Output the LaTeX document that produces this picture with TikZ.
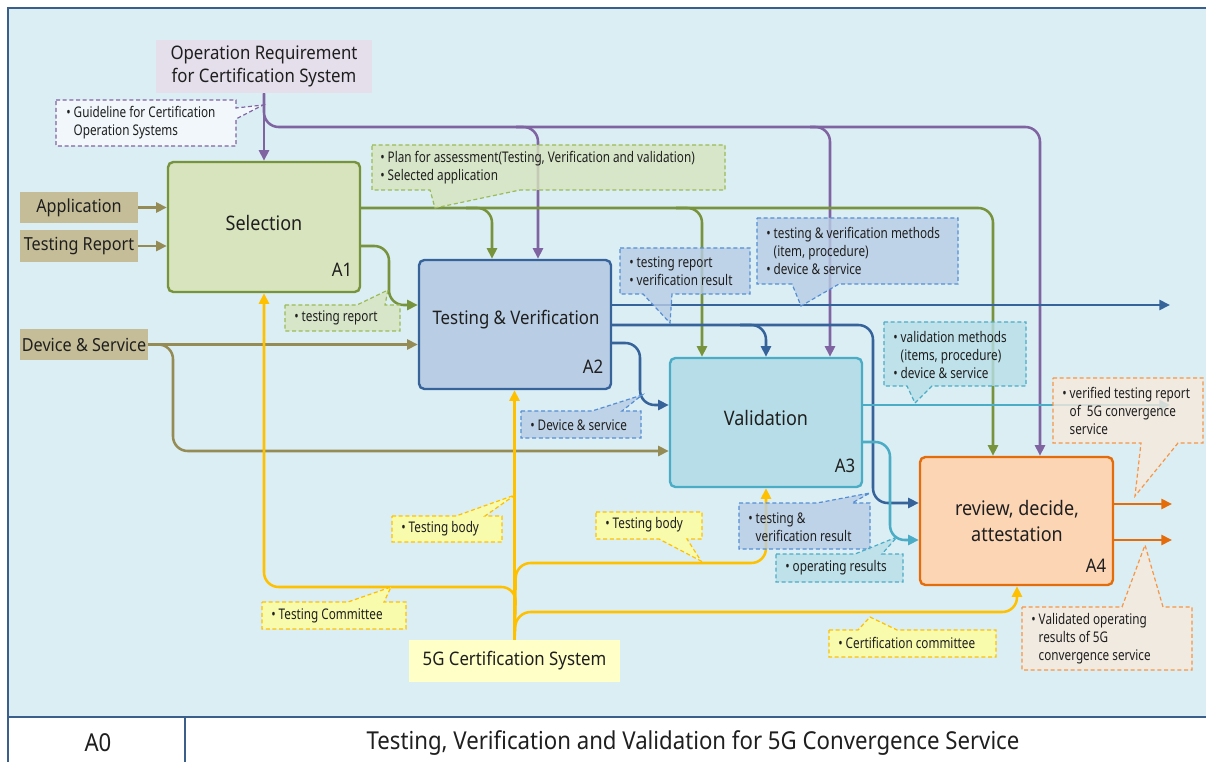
\documentclass[tikz,border=0pt]{standalone}
\usepackage{fontspec}
\setmainfont{Noto Sans}[FakeStretch=0.9]
\newfontfamily\cfont{Noto Sans}[FakeStretch=0.8]
\usetikzlibrary{arrows.meta}
\definecolor{panel}{HTML}{DBEEF4}
\definecolor{frame}{HTML}{3A5F8B}
\definecolor{tanfill}{HTML}{C4BD97}
\definecolor{tanline}{HTML}{958B55}
\definecolor{grn}{HTML}{77933C}
\definecolor{aonefill}{HTML}{D7E4BD}
\definecolor{atwofill}{HTML}{B9CDE5}
\definecolor{dblue}{HTML}{36639A}
\definecolor{athreefill}{HTML}{B7DEE8}
\definecolor{cyn}{HTML}{4BACC6}
\definecolor{afourfill}{HTML}{FCD5B5}
\definecolor{orng}{HTML}{E46C0A}
\definecolor{yel}{HTML}{FFC000}
\definecolor{gfivefill}{HTML}{FFFFC8}
\definecolor{purp}{HTML}{8064A2}
\definecolor{opfill}{HTML}{E5DFEC}
\definecolor{cgline}{HTML}{9BBB59}
\definecolor{cbline}{HTML}{558ED5}
\definecolor{cyfill}{HTML}{FFFF99}
\definecolor{cofill}{HTML}{F7E9DC}
\definecolor{coline}{HTML}{F79646}
\definecolor{cpfill}{HTML}{F7FAFC}
\definecolor{txt}{HTML}{1F1F1F}
\tikzset{
  conn/.style={line width=1.9pt, rounded corners=11pt, -{Triangle[length=8pt,width=7.5pt]}},
  tanc/.style={conn, draw=tanline},
  grnc/.style={conn, draw=grn},
  purc/.style={conn, draw=purp},
  bluc/.style={conn, draw=dblue},
  cync/.style={conn, draw=cyn},
  orgc/.style={conn, draw=orng},
  yelc/.style={conn, draw=yel},
  mainbox/.style={rounded corners=4pt, line width=1.8pt, inner sep=0pt},
  inbox/.style={fill=tanfill, inner sep=0pt, text=txt, font=\fontsize{13.5pt}{16pt}\selectfont},
  mainlbl/.style={text=txt, font=\fontsize{15pt}{19pt}\selectfont, align=center, inner sep=0pt},
  idlbl/.style={text=txt, font=\fontsize{14pt}{17pt}\selectfont, inner sep=0pt},
  callout/.style={line width=0.9pt, dash pattern=on 3pt off 2pt, fill opacity=0.8},
  cgr/.style={callout, draw=cgline, fill=aonefill},
  cbl/.style={callout, draw=cbline, fill=atwofill},
  ccy/.style={callout, draw=cyn, fill=athreefill},
  cye/.style={callout, draw=yel, fill=cyfill},
  cor/.style={callout, draw=coline, fill=cofill},
  cpu/.style={callout, draw=purp, fill=cpfill},
  ctext/.style={anchor=west, align=left, inner sep=0pt, text=txt, font=\cfont\fontsize{11pt}{13.5pt}\selectfont},
}
\newcommand{\bul}{\textbullet\ }
\newcommand{\ind}{\hphantom{\textbullet\ }}
\begin{document}
\begin{tikzpicture}[x=0.75pt,y=-0.75pt]
\useasboundingbox (0,0) rectangle (1206,762);
\fill[white] (0,0) rectangle (1206,762);
\fill[panel] (8,8) rectangle (1206,717);
\draw[frame, line width=1.1pt] (1206,8) -- (8,8) -- (8,762);
\draw[frame, line width=1.1pt] (8,717) -- (1206,717);
\draw[frame, line width=0.8pt] (185,717) -- (185,762);
\node[text=txt, font=\fontsize{18.5pt}{21pt}\selectfont] (a0) at (98,743) {A0};
\node[text=txt, font=\fontsize{18.5pt}{21pt}\selectfont] (title) at (693,743) {Testing, Verification and Validation for 5G Convergence Service};

% boxes
\node[fill=opfill, inner sep=0pt, minimum width=162pt, minimum height=39.75pt] (opreq) at (264,66.5) {};
\node[mainlbl, font=\fontsize{14pt}{17.5pt}\selectfont] (opreqt) at (264,66.5) {Operation Requirement\\for Certification System};
\node[inbox, minimum width=88.5pt, minimum height=23.25pt] (app) at (79,207.5) {Application};
\node[inbox, minimum width=88.5pt, minimum height=24pt] (trep) at (79,246) {Testing Report};
\node[inbox, minimum width=96pt, minimum height=23.25pt] (dev) at (84,344.5) {Device \& Service};
\node[mainbox, draw=grn, fill=aonefill, minimum width=144pt, minimum height=97.5pt] (A1) at (264,227) {};
\node[mainbox, draw=dblue, fill=atwofill, minimum width=144pt, minimum height=96.75pt] (A2) at (515,324.5) {};
\node[mainbox, draw=cyn, fill=athreefill, minimum width=144pt, minimum height=96.75pt] (A3) at (766,422.5) {};
\node[mainbox, draw=orng, fill=afourfill, minimum width=144.75pt, minimum height=96pt] (A4) at (1016.5,521) {};
\node[fill=gfivefill, inner sep=0pt, minimum width=158.25pt, minimum height=31.5pt] (g5) at (514.5,661) {};
\node[mainlbl, font=\fontsize{14pt}{17pt}\selectfont] (g5t) at (514.5,661) {5G Certification System};

% junctions
\coordinate (jp1) at (516,127);
\coordinate (jp2) at (810,127);
\coordinate (jg1) at (466,208);
\coordinate (jg2) at (676,208);
\coordinate (jb1) at (740,325);
\coordinate (outTV) at (1170,305);
\coordinate (outV) at (1170,405);
\coordinate (outA) at (1172,504);
\coordinate (outB) at (1172,540);

% purple
\draw[purc] (opreq.south) -- (A1.north);
\draw[purc] (opreq.south) -- (264,127) -- (1040,127) -- (A4.north -| 1040,0);
\draw[purc] (jp1) -- (538,127) -- (A2.north -| 538,0);
\draw[purc] (jp2) -- (830,127) -- (A3.north -| 830,0);
% tan
\draw[tanc] (app.east) -- (app.east -| A1.west);
\draw[tanc] (trep.east) -- (trep.east -| A1.west);
\draw[tanc] (dev.east) -- (dev.east -| A2.west);
\draw[tanc] (dev.east) -- (173,344.5) -- (173,451) -- (A3.west |- 0,451);
% green
\draw[grnc] (A1.east |- 0,208) -- (993,208) -- (A4.north -| 993,0);
\draw[grnc] (jg1) -- (492,208) -- (A2.north -| 492,0);
\draw[grnc] (jg2) -- (702,208) -- (A3.north -| 702,0);
\draw[grnc] (A1.east |- 0,246) -- (389,246) -- (389,305) -- (A2.west |- 0,305);
% dark blue
\draw[bluc] (A2.east |- 0,305) -- (outTV);
\draw[bluc] (A2.east |- 0,325) -- (873,325) -- (873,503) -- (A4.west |- 0,503);
\draw[bluc] (jb1) -- (766,325) -- (A3.north);
\draw[bluc] (A2.east |- 0,343) -- (640,343) -- (640,405) -- (A3.west |- 0,405);
% cyan
\draw[cync] (A3.east |- 0,405) -- (outV);
\draw[cync] (A3.east |- 0,442) -- (890,442) -- (890,540) -- (A4.west |- 0,540);
% orange
\draw[orgc] (A4.east |- 0,504) -- (outA);
\draw[orgc] (A4.east |- 0,540) -- (outB);
% yellow
\draw[yelc] (g5.north) -- (g5.north |- A2.south);
\draw[yelc] (g5.north) -- (516,587) -- (264,587) -- (A1.south);
\draw[yelc] (g5.north) -- (516,563) -- (766,563) -- (A3.south);
\draw[yelc] (g5.north) -- (516,612) -- (1017,612) -- (A4.south -| 1017,0);

% main box labels
\node[mainlbl] (A1t) at (264,223) {Selection};
\node[idlbl] (A1id) at (342,270) {A1};
\node[mainlbl, font=\fontsize{14pt}{17pt}\selectfont] (A2t) at (516,320) {Testing \& Verification};
\node[idlbl] (A2id) at (593,367) {A2};
\node[mainlbl] (A3t) at (766,418) {Validation};
\node[idlbl] (A3id) at (845,466) {A3};
\node[mainlbl] (A4t) at (1017,521) {review, decide,\\attestation};
\node[idlbl] (A4id) at (1096,566) {A4};

% callouts
\path[cpu] (56,100) -- (236,100) -- (236,108) -- (263,105) -- (236,119) -- (236,146) -- (56,146) -- cycle;
\node[ctext] (c1) at (66,123) {\bul Guideline for Certification\\\ind Operation Systems};
\path[cgr] (372,145) -- (725,145) -- (725,190) -- (520,190) -- (435,208) -- (430,190) -- (372,190) -- cycle;
\node[ctext] (c2) at (380,167.5) {\bul Plan for assessment(Testing, Verification and validation)\\\bul Selected application};
\path[cgr] (285,305) -- (357,305) -- (388,290) -- (385,305) -- (400,305) -- (400,331) -- (285,331) -- cycle;
\node[ctext] (c3) at (294,318) {\bul testing report};
\path[cbl] (620,248) -- (750,248) -- (750,294) -- (672,294) -- (670,323) -- (643,294) -- (620,294) -- cycle;
\node[ctext] (c4) at (629,271) {\bul testing report\\\bul verification result};
\path[cbl] (757,218) -- (958,218) -- (958,284) -- (839,284) -- (801,306) -- (792,284) -- (757,284) -- cycle;
\node[ctext] (c5) at (766,251) {\bul testing \& verification methods\\\ind (item, procedure)\\\bul device \& service};
\path[ccy] (884,322) -- (1026,322) -- (1026,386) -- (932,386) -- (915,403) -- (907,386) -- (884,386) -- cycle;
\node[ctext] (c6) at (893,355) {\bul validation methods\\\ind (items, procedure)\\\bul device \& service};
\path[cbl] (521,411) -- (592,411) -- (642,395) -- (622,411) -- (641,411) -- (641,438) -- (521,438) -- cycle;
\node[ctext] (c7) at (530,425) {\bul Device \& service};
\path[cbl] (739,503) -- (817,503) -- (870,493) -- (852,503) -- (870,503) -- (870,549) -- (739,549) -- cycle;
\node[ctext] (c8) at (748,527) {\bul testing \&\\\ind verification result};
\path[ccy] (776,554) -- (855,554) -- (897,537) -- (882,554) -- (903,554) -- (903,582) -- (776,582) -- cycle;
\node[ctext] (c9) at (785,568) {\bul operating results};
\path[cor] (1053,378) -- (1203,378) -- (1203,443) -- (1178,443) -- (1135,496) -- (1141,443) -- (1053,443) -- cycle;
\node[ctext] (c10) at (1062,411) {\bul verified testing report\\\ind of\ \ 5G convergence\\\ind service};
\path[cor] (1022,607) -- (1122,607) -- (1145,545) -- (1163,607) -- (1192,607) -- (1192,670) -- (1022,670) -- cycle;
\node[ctext] (c11) at (1031,639) {\bul Validated operating\\\ind results of 5G\\\ind convergence service};
\path[cye] (392,516) -- (456,516) -- (515,495) -- (485,516) -- (502,516) -- (502,542) -- (392,542) -- cycle;
\node[ctext] (c12) at (401,529) {\bul Testing body};
\path[cye] (596,512) -- (702,512) -- (702,539) -- (687,539) -- (701,561) -- (659,539) -- (596,539) -- cycle;
\node[ctext] (c13) at (605,525) {\bul Testing body};
\path[cye] (262,602) -- (348,602) -- (391,587) -- (384,602) -- (406,602) -- (406,629) -- (262,629) -- cycle;
\node[ctext] (c14) at (271,616) {\bul Testing Committee};
\path[cye] (829,630) -- (858,630) -- (870,617) -- (897,630) -- (996,630) -- (996,657) -- (829,657) -- cycle;
\node[ctext] (c15) at (838,643) {\bul Certification committee};
\end{tikzpicture}
\end{document}
